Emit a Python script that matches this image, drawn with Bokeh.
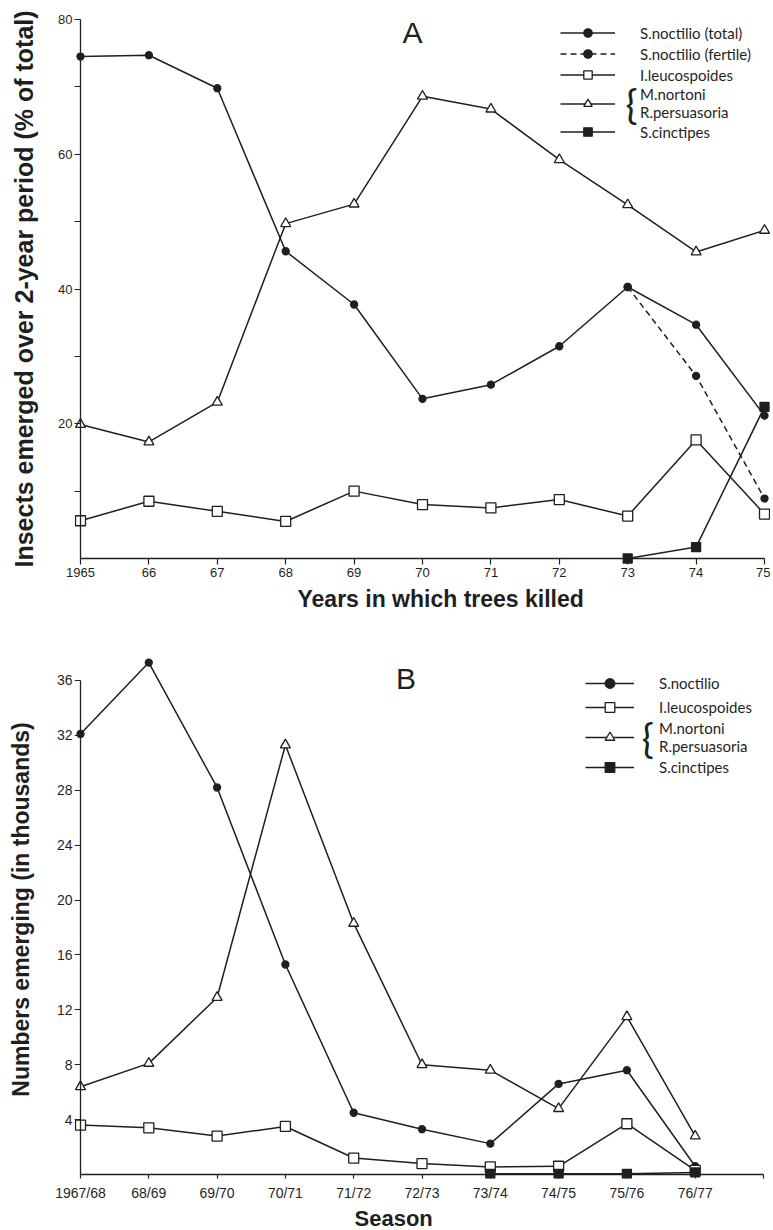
from math import pi
from bokeh.plotting import figure
from bokeh.models import Range1d, FixedTicker, Label, Legend, LegendItem, LinearAxis, Title
from bokeh.layouts import column
from bokeh.embed import file_html
from bokeh.resources import INLINE

# ---------------- Panel A data (% of total over 2-year period)
years_a = [1965, 1966, 1967, 1968, 1969, 1970, 1971, 1972, 1973, 1974, 1975]
year_tick_labels_a = ["1965", "66", "67", "68", "69", "70", "71", "72", "73", "74", "75"]
noctilio_total_a = [74.5, 74.7, 69.8, 45.6, 37.7, 23.7, 25.8, 31.5, 40.3, 34.7, 21.2]
fertile_years_a = [1973, 1974, 1975]
noctilio_fertile_a = [40.3, 27.1, 8.9]
leucospoides_a = [5.6, 8.5, 7.0, 5.5, 10.0, 8.0, 7.5, 8.75, 6.3, 17.6, 6.6]
nortoni_a = [19.9, 17.3, 23.2, 49.7, 52.6, 68.6, 66.7, 59.2, 52.5, 45.5, 48.7]
cinctipes_years_a = [1973, 1974, 1975]
cinctipes_a = [0.0, 1.7, 22.5]
y_ticks_a = [10, 20, 30, 40, 50, 60, 70, 80]
y_tick_labels_a = ["", "20", "", "40", "", "60", "", "80"]

# ---------------- Panel B data (numbers emerging, thousands)
seasons_b = ["1967/68", "68/69", "69/70", "70/71", "71/72", "72/73", "73/74", "74/75", "75/76", "76/77"]
season_idx_b = list(range(len(seasons_b)))
noctilio_b = [32.1, 37.3, 28.2, 15.3, 4.5, 3.3, 2.25, 6.6, 7.6, 0.6]
leucospoides_b = [3.6, 3.4, 2.8, 3.5, 1.2, 0.8, 0.55, 0.6, 3.7, 0.3]
nortoni_b = [6.4, 8.1, 12.9, 31.3, 18.3, 8.0, 7.6, 4.8, 11.5, 2.8]
cinctipes_idx_b = [6, 7, 8, 9]
cinctipes_b = [0.05, 0.05, 0.05, 0.15]
y_ticks_b = [4, 8, 12, 16, 20, 24, 28, 32, 36]
y_tick_labels_b = ["4", "8", "12", "16", "20", "24", "28", "32", "36"]

INK = "#1f1f1f"
TICK_FONT = "Liberation Sans"
TITLE_FONT = "Liberation Sans"
LEG_FONT = "Lato"
W = 770


def build_axes(p, xt, xl, xb, x_fix, yt, yl, yb, y_fix, fs,
               x_title, x_title_offset, x_title_fs, x_title_standoff,
               y_title, y_title_fs, y_title_standoff,
               x_lab_standoff, y_lab_standoff, x_tick, y_tick):
    p.grid.visible = False
    p.outline_line_color = None
    # label axes (in the side panels): tick labels only (+ y title)
    lx, ly = p.xaxis[0], p.yaxis[0]
    for ax, t, l in ((lx, xt, xl), (ly, yt, yl)):
        ax.ticker = FixedTicker(ticks=list(t))
        ax.major_label_overrides = {k: v for k, v in zip(t, l)}
        ax.axis_line_color = None
        ax.major_tick_line_color = None
        ax.minor_tick_line_color = None
        ax.major_tick_out = 0
        ax.major_tick_in = 0
        ax.major_label_text_font = TICK_FONT
        ax.major_label_text_font_size = fs
        ax.major_label_text_color = INK
    lx.major_label_standoff = x_lab_standoff
    ly.major_label_standoff = y_lab_standoff
    ly.axis_label = y_title
    ly.axis_label_text_font = TITLE_FONT
    ly.axis_label_text_font_style = "bold"
    ly.axis_label_text_color = INK
    ly.axis_label_text_font_size = y_title_fs
    ly.axis_label_standoff = y_title_standoff
    # x title as a bottom title, placed like the original
    p.add_layout(Title(text=x_title, align="left", offset=x_title_offset,
                       standoff=x_title_standoff, text_font=TITLE_FONT,
                       text_font_size=x_title_fs, text_font_style="bold",
                       text_color=INK), "below")
    # rule axes drawn through the data origin: line and ticks only
    fx = LinearAxis(fixed_location=x_fix, bounds=xb, ticker=FixedTicker(ticks=list(xt)),
                    major_label_overrides={k: "" for k in xt},
                    major_label_text_font_size="0px", major_label_standoff=0,
                    axis_line_color=INK, axis_line_width=1.3,
                    major_tick_line_color=INK, major_tick_line_width=1.2,
                    major_tick_out=0, major_tick_in=x_tick, minor_tick_line_color=None)
    p.add_layout(fx, "above")
    fy = LinearAxis(fixed_location=y_fix, bounds=yb, ticker=FixedTicker(ticks=list(yt)),
                    major_label_overrides={k: "" for k in yt},
                    major_label_text_font_size="0px", major_label_standoff=0,
                    axis_line_color=INK, axis_line_width=1.3,
                    major_tick_line_color=INK, major_tick_line_width=1.2,
                    major_tick_out=0, major_tick_in=-y_tick, minor_tick_line_color=None)
    p.add_layout(fy, "left")


def series(p, x, y, marker, size, fill, dash="solid"):
    ln = p.line(x, y, line_color=INK, line_width=1.5, line_dash=dash)
    sc = p.scatter(x, y, marker=marker, size=size, fill_color=fill, line_color=INK, line_width=1.3)
    return [ln, sc]


# ================= Panel A =================
A_H = 626
A_FRAME = dict(left=74, right=W, top=12, bottom=565)
A_X = (80.0, 764.0)   # pixels of first / last year
A_Y = (558.0, 19.0)   # pixels of 0 and 80
sxa = (A_X[1] - A_X[0]) / (years_a[-1] - years_a[0])
sya = (A_Y[0] - A_Y[1]) / y_ticks_a[-1]


def axa(px):
    return years_a[0] + (px - A_X[0]) / sxa


def aya(py):
    return (A_Y[0] - py) / sya


pA = figure(width=W, height=A_H,
            x_range=Range1d(axa(A_FRAME["left"]), axa(A_FRAME["right"])),
            y_range=Range1d(aya(A_FRAME["bottom"]), aya(A_FRAME["top"])),
            output_backend="svg", toolbar_location=None, tools="",
            min_border_left=A_FRAME["left"], min_border_right=0, min_border_top=A_FRAME["top"],
            min_border_bottom=A_H - A_FRAME["bottom"],
            background_fill_color="white", border_fill_color="white")
build_axes(pA, years_a, year_tick_labels_a, (years_a[0], years_a[-1]), 0,
           y_ticks_a, y_tick_labels_a, (0, y_ticks_a[-1]), years_a[0], "13px",
           "Years in which trees killed", 297 - A_FRAME["left"], "23px", 9,
           "Insects emerged over 2-year period (% of total)", "25px", 17,
           2, 2, 6, 7)

r_tot = series(pA, years_a, noctilio_total_a, "circle", 7, INK)
r_fer = series(pA, fertile_years_a, noctilio_fertile_a, "circle", 7, INK, dash="6 4")
r_leu = series(pA, years_a, leucospoides_a, "square", 10, "white")
r_nor = series(pA, years_a, nortoni_a, "triangle", 10, "white")
r_cin = series(pA, cinctipes_years_a, cinctipes_a, "square", 9, INK)

legA = Legend(items=[
    LegendItem(label="S.noctilio (total)", renderers=r_tot),
    LegendItem(label="S.noctilio (fertile)", renderers=r_fer),
    LegendItem(label="I.leucospoides", renderers=r_leu),
    LegendItem(label="M.nortoni\nR.persuasoria", renderers=r_nor),
    LegendItem(label="S.cinctipes", renderers=r_cin),
], location=(486, 423), padding=0, margin=0, spacing=0,
    glyph_width=55, glyph_height=21, label_height=21, label_standoff=25,
    label_text_font=LEG_FONT, label_text_font_size="15px", label_text_color=INK,
    border_line_color=None, background_fill_alpha=0)
pA.add_layout(legA, "center")

pA.add_layout(Label(x=axa(631), y=aya(103), text="{", text_align="center", text_baseline="middle",
                    text_font=LEG_FONT, text_font_size="40px", text_color=INK))
pA.add_layout(Label(x=axa(412), y=aya(32), text="A", text_align="center", text_baseline="middle",
                    text_font=TITLE_FONT, text_font_size="30px", text_color=INK))

# ================= Panel B =================
B_TOP = A_H
B_H = 1230 - B_TOP
B_FRAME = dict(left=73, right=W, top=640, bottom=1179)   # page pixels
B_X = (79.0, 763.0)    # pixels of index 0 / index 10
B_Y = (1175.0, 680.0)  # pixels of 0 and 36
x_ticks_b = season_idx_b + [len(seasons_b)]
x_tick_labels_b = seasons_b + [""]
sxb = (B_X[1] - B_X[0]) / x_ticks_b[-1]
syb = (B_Y[0] - B_Y[1]) / y_ticks_b[-1]


def bxa(px):
    return (px - B_X[0]) / sxb


def bya(py):
    return (B_Y[0] - py) / syb


pB = figure(width=W, height=B_H,
            x_range=Range1d(bxa(B_FRAME["left"]), bxa(B_FRAME["right"])),
            y_range=Range1d(bya(B_FRAME["bottom"]), bya(B_FRAME["top"])),
            output_backend="svg", toolbar_location=None, tools="",
            min_border_left=B_FRAME["left"], min_border_right=0,
            min_border_top=B_FRAME["top"] - B_TOP,
            min_border_bottom=B_TOP + B_H - B_FRAME["bottom"],
            background_fill_color="white", border_fill_color="white")
build_axes(pB, x_ticks_b, x_tick_labels_b, (0, x_ticks_b[-1]), 0,
           y_ticks_b, y_tick_labels_b, (0, y_ticks_b[-1]), 0, "14px",
           "Season", 353 - B_FRAME["left"], "22px", 0,
           "Numbers emerging (in thousands)", "23px", 20,
           6, 2, 6, 6)

b_noc = series(pB, season_idx_b, noctilio_b, "circle", 7, INK)
b_leu = series(pB, season_idx_b, leucospoides_b, "square", 10, "white")
b_nor = series(pB, season_idx_b, nortoni_b, "triangle", 10, "white")
b_cin = series(pB, cinctipes_idx_b, cinctipes_b, "square", 9, INK)

legB = Legend(items=[
    LegendItem(label="S.noctilio", renderers=b_noc),
    LegendItem(label="I.leucospoides", renderers=b_leu),
    LegendItem(label="M.nortoni\nR.persuasoria", renderers=b_nor),
    LegendItem(label="S.cinctipes", renderers=b_cin),
], location=(511, 399), padding=0, margin=0, spacing=0,
    glyph_width=49, glyph_height=24, label_height=24, label_standoff=25,
    label_text_font=LEG_FONT, label_text_font_size="15px", label_text_color=INK,
    border_line_color=None, background_fill_alpha=0)
pB.add_layout(legB, "center")

pB.add_layout(Label(x=bxa(647), y=bya(738), text="{", text_align="center", text_baseline="middle",
                    text_font=LEG_FONT, text_font_size="40px", text_color=INK))
pB.add_layout(Label(x=bxa(405), y=bya(678), text="B", text_align="center", text_baseline="middle",
                    text_font=TITLE_FONT, text_font_size="30px", text_color=INK))

layout = column(pA, pB, spacing=0)
open("out.html", "w").write(file_html(layout, INLINE))
